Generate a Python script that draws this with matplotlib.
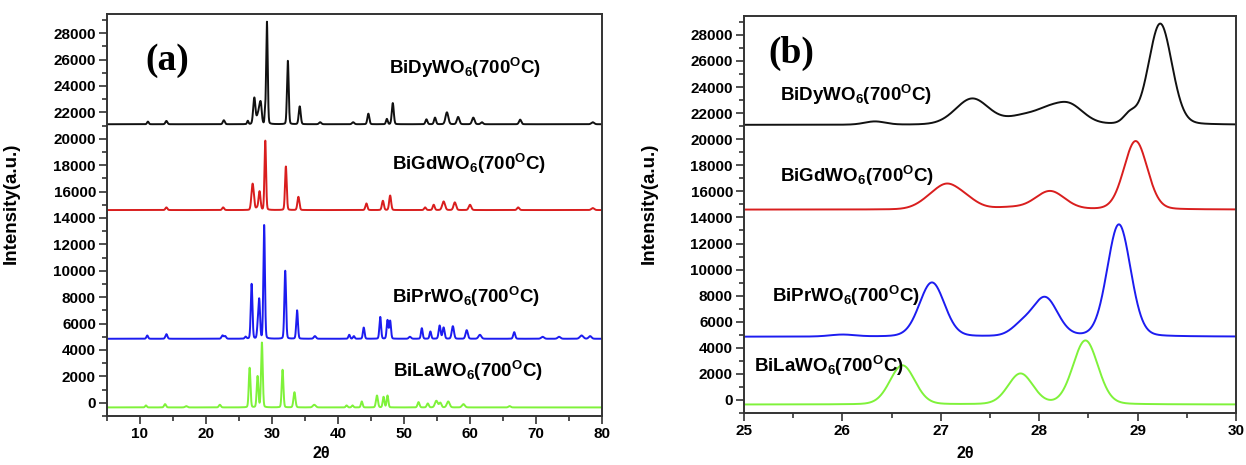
import numpy as np
import matplotlib.pyplot as plt
from matplotlib.ticker import MultipleLocator

plt.rcParams['font.family'] = ['Liberation Sans', 'DejaVu Sans']
plt.rcParams['font.weight'] = 'bold'
plt.rcParams['mathtext.fontset'] = 'custom'
plt.rcParams['mathtext.bf'] = 'Liberation Sans:bold'
plt.rcParams['mathtext.rm'] = 'Liberation Sans:bold'
plt.rcParams['mathtext.default'] = 'bf'

# samples, top to bottom
names = ['BiDyWO', 'BiGdWO', 'BiPrWO', 'BiLaWO']
colors = ['#111111', '#d91e1e', '#1c1cf0', '#7ff23a']
baselines = [21100, 14600, 4850, -350]

# reflections: (2theta, height above baseline, fwhm)
dy_peaks = [(11.2, 200, 0.3), (14.0, 250, 0.35), (22.7, 300, 0.35), (26.33, 250, 0.25),
            (27.32, 2000, 0.4), (27.85, 650, 0.4), (28.08, 650, 0.3), (28.3, 1500, 0.35),
            (28.92, 700, 0.15), (29.23, 7750, 0.28), (32.4, 4800, 0.3), (34.2, 1350, 0.35),
            (37.3, 150, 0.4), (42.3, 150, 0.4), (44.6, 800, 0.35), (47.4, 400, 0.3),
            (48.3, 1600, 0.35), (53.4, 370, 0.35), (54.7, 500, 0.35), (56.5, 900, 0.5),
            (58.2, 550, 0.45), (60.5, 500, 0.45), (61.8, 150, 0.4), (67.6, 350, 0.4),
            (78.6, 150, 0.5)]
gd_peaks = [(14.0, 200, 0.35), (22.6, 200, 0.35), (26.88, 550, 0.3), (27.06, 1550, 0.3),
            (27.25, 700, 0.3), (27.7, 150, 0.4), (28.11, 1400, 0.35), (28.98, 5250, 0.28),
            (32.1, 3300, 0.3), (34.0, 1000, 0.35), (44.3, 500, 0.35), (46.8, 700, 0.35),
            (47.9, 1100, 0.35), (53.2, 200, 0.35), (54.5, 400, 0.35), (56.0, 650, 0.5),
            (57.7, 580, 0.45), (60.0, 400, 0.45), (67.3, 200, 0.4), (78.6, 150, 0.5)]
pr_peaks = [(11.1, 250, 0.3), (14.0, 350, 0.35), (22.5, 250, 0.35), (22.9, 200, 0.35),
            (26.0, 150, 0.3), (26.91, 4150, 0.3), (27.82, 750, 0.25), (28.06, 2950, 0.3),
            (28.81, 8600, 0.28), (32.0, 5150, 0.3), (33.8, 2150, 0.3), (36.5, 200, 0.4),
            (41.7, 300, 0.3), (42.4, 200, 0.3), (43.9, 850, 0.3), (46.4, 1650, 0.3),
            (47.5, 1400, 0.3), (47.9, 1350, 0.3), (50.9, 150, 0.4), (52.7, 800, 0.3),
            (54.0, 550, 0.3), (55.4, 1000, 0.35), (56.0, 850, 0.35), (57.4, 950, 0.4),
            (59.5, 650, 0.4), (61.5, 300, 0.5), (66.7, 500, 0.35), (71.0, 150, 0.5),
            (73.5, 150, 0.5), (76.9, 250, 0.6), (78.2, 200, 0.5)]
la_peaks = [(10.9, 150, 0.3), (13.8, 250, 0.35), (17.0, 100, 0.4), (22.1, 200, 0.35),
            (26.61, 3000, 0.3), (27.81, 2350, 0.3), (28.47, 4900, 0.3), (31.6, 2850, 0.3),
            (33.4, 1150, 0.35), (36.4, 200, 0.5), (41.3, 150, 0.3), (42.2, 150, 0.3),
            (43.6, 450, 0.3), (45.9, 900, 0.35), (46.9, 800, 0.3), (47.5, 900, 0.3),
            (52.2, 400, 0.35), (53.6, 300, 0.35), (54.9, 500, 0.5), (55.5, 350, 0.4),
            (56.7, 450, 0.5), (59.0, 250, 0.5), (66.0, 100, 0.4)]
all_peaks = [dy_peaks, gd_peaks, pr_peaks, la_peaks]

# label positions (2theta of left edge, intensity of centre) for each panel
label_pos_a = [(47.7, 25400), (48.2, 18100), (48.2, 8000), (48.3, 2400)]
label_pos_b = [(25.37, 23400), (25.37, 17150), (25.28, 8000), (25.10, 2600)]


def pattern(tt, base, peaks, eta=0.12):
    y = np.full_like(tt, float(base))
    for pos, h, w in peaks:
        g = np.exp(-4 * np.log(2) * ((tt - pos) / w) ** 2)
        l = 1 / (1 + 4 * ((tt - pos) / w) ** 2)
        y += h * (eta * l + (1 - eta) * g)
    return y


tt = np.linspace(5, 80, 30001)

fig = plt.figure(figsize=(12.46, 4.65), dpi=100)
ax1 = fig.add_axes([107 / 1246, 1 - 416 / 465, 495 / 1246, 402 / 465])
ax2 = fig.add_axes([744 / 1246, 1 - 413 / 465, 492 / 1246, 397 / 465])

for ax, lpos, xlim, xmaj, xmin in [(ax1, label_pos_a, (5, 80), 10, 5),
                                   (ax2, label_pos_b, (25, 30), 1, 0.5)]:
    for name, col, base, peaks, (lx, ly) in zip(names, colors, baselines, all_peaks, lpos):
        ax.plot(tt, pattern(tt, base, peaks), color=col, lw=1.4)
        ax.text(lx, ly, name + r'$_6$(700$^O$C)', fontsize=13.5, fontweight='bold',
                ha='left', va='center')
    ax.set_xlim(*xlim)
    ax.set_ylim(-1000, 29450)
    ax.xaxis.set_major_locator(MultipleLocator(xmaj))
    ax.xaxis.set_minor_locator(MultipleLocator(xmin))
    ax.yaxis.set_major_locator(MultipleLocator(2000))
    ax.yaxis.set_minor_locator(MultipleLocator(1000))
    ax.tick_params(which='both', direction='out', top=False, right=False,
                   labelsize=11, width=1.2, color='#333333')
    ax.tick_params(which='major', length=6, pad=2)
    ax.tick_params(which='minor', length=3.5)
    for lab in ax.get_xticklabels() + ax.get_yticklabels():
        lab.set_fontweight('bold')
    for sp in ax.spines.values():
        sp.set_linewidth(1.4)
        sp.set_color('#333333')
    ax.set_ylabel('Intensity(a.u.)', fontsize=13.5, fontweight='bold')
    ax.set_xlabel('2θ', fontsize=11.5, fontweight='bold')

ax1.yaxis.set_label_coords(-87 / 495, (416 - 203) / 402)
ax1.xaxis.set_label_coords((321 - 107) / 495, -30 / 402)
ax2.yaxis.set_label_coords(-86 / 492, (413 - 203) / 397)
ax2.xaxis.set_label_coords((965 - 744) / 492, -33 / 397)

ax1.text(14.1, 25950, '(a)', family='Liberation Serif', fontsize=27, fontweight='bold',
         ha='center', va='center')
ax2.text(25.48, 26600, '(b)', family='Liberation Serif', fontsize=27, fontweight='bold',
         ha='center', va='center')

fig.savefig('out.png', dpi=100)
